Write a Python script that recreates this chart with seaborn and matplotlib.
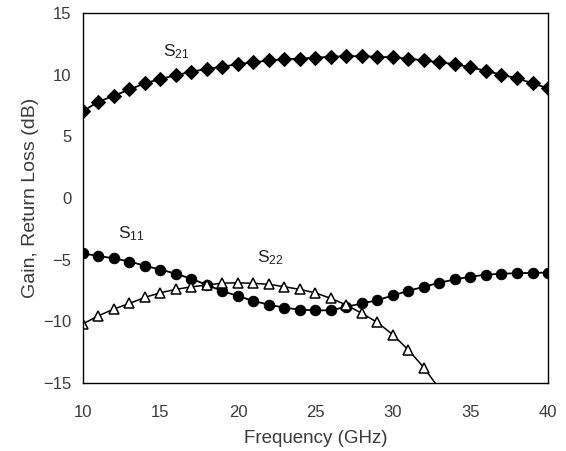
import numpy as np
import pandas as pd
import matplotlib
matplotlib.use("Agg")
import matplotlib.pyplot as plt
import seaborn as sns

freq = list(range(10, 41))
s21 = [7.05, 7.8, 8.3, 8.8, 9.3, 9.65, 9.95, 10.25, 10.45, 10.65, 10.85, 11.0, 11.15, 11.25, 11.3, 11.38,
       11.45, 11.5, 11.5, 11.45, 11.4, 11.3, 11.15, 11.0, 10.85, 10.6, 10.3, 10.0, 9.7, 9.3, 8.9]
s11 = [-4.5, -4.7, -4.9, -5.15, -5.5, -5.8, -6.15, -6.55, -7.05, -7.55, -7.95, -8.35, -8.65, -8.9, -9.05, -9.12,
       -9.1, -8.82, -8.55, -8.28, -7.9, -7.52, -7.2, -6.87, -6.6, -6.38, -6.22, -6.14, -6.1, -6.07, -6.05]
freq22 = list(range(10, 34))
s22 = [-10.2, -9.55, -9.0, -8.55, -8.06, -7.68, -7.41, -7.2, -7.06, -6.9, -6.88, -6.92, -7.0, -7.2, -7.41, -7.7,
       -8.14, -8.68, -9.36, -10.09, -11.1, -12.33, -13.76, -15.5]

sns.set_style("white")
plt.rcParams["font.family"] = ["Liberation Sans", "DejaVu Sans"]
plt.rcParams["mathtext.default"] = "regular"

fig = plt.figure(figsize=(5.66, 4.51), dpi=100)
ax = fig.add_axes([0.1466, 0.1508, 0.8216, 0.8204])

sns.lineplot(x=freq, y=s21, ax=ax, color="black", marker="D", markersize=7, linewidth=1.3,
             markeredgecolor="black")
sns.lineplot(x=freq, y=s11, ax=ax, color="black", marker="o", markersize=7.5, linewidth=1.3,
             markeredgecolor="black")
sns.lineplot(x=freq22, y=s22, ax=ax, color="black", marker="^", markersize=7, linewidth=1.1,
             markerfacecolor="white", markeredgecolor="black", markeredgewidth=1.1,
             markevery=list(range(len(s22) - 1)))

ax.set_xlim(10, 40)
ax.set_ylim(-15, 15)
ax.set_xticks([10, 15, 20, 25, 30, 35, 40])
ax.set_yticks([-15, -10, -5, 0, 5, 10, 15])
ax.tick_params(length=0, labelsize=12, labelcolor="#3a3a3a")
ax.tick_params(axis="x", pad=16)
ax.tick_params(axis="y", pad=8.5)
for sp in ax.spines.values():
    sp.set_color("black")
    sp.set_linewidth(1.0)

ax.set_xlabel("Frequency (GHz)", fontsize=13.5, color="#3a3a3a", labelpad=7)
ax.set_ylabel("Gain, Return Loss (dB)", fontsize=14, color="#3a3a3a", labelpad=3)

ax.text(15.15, 11.85, "S$_{21}$", fontsize=12.5, va="center", color="#222222")
ax.text(12.25, -2.9, "S$_{11}$", fontsize=12.5, va="center", color="#222222")
ax.text(21.2, -4.85, "S$_{22}$", fontsize=12.5, va="center", color="#222222")

fig.savefig("out.png", dpi=100)
